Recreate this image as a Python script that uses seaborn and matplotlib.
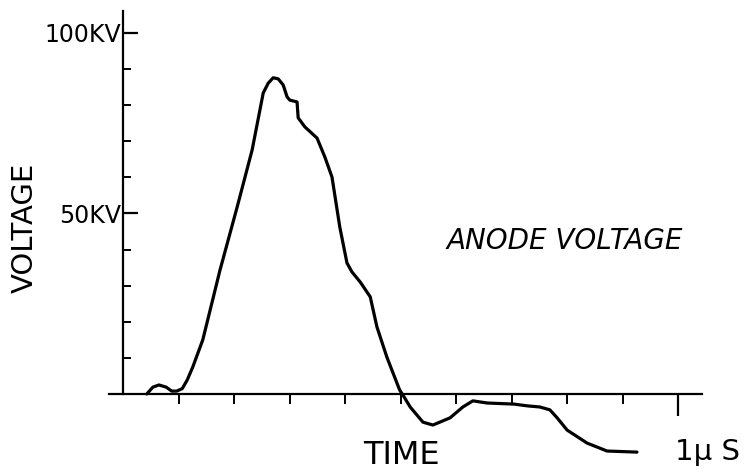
import numpy as np
import pandas as pd
import seaborn as sns
import matplotlib.pyplot as plt
from matplotlib.ticker import FixedLocator

# anode voltage trace (time in microseconds, voltage in kV)
time_us = [0.042, 0.053, 0.064, 0.077, 0.087, 0.096, 0.106, 0.115, 0.125, 0.143,
           0.174, 0.205, 0.232, 0.252, 0.261, 0.270, 0.279, 0.288, 0.295, 0.300,
           0.313, 0.315, 0.327, 0.349, 0.363, 0.376, 0.390, 0.403, 0.412, 0.427,
           0.445, 0.457, 0.475, 0.498, 0.504, 0.517, 0.540, 0.558, 0.589, 0.612,
           0.630, 0.656, 0.704, 0.729, 0.751, 0.769, 0.782, 0.800, 0.836, 0.872,
           0.926]
voltage_kv = [0.0, 1.9, 2.5, 1.9, 0.8, 0.8, 1.5, 3.9, 7.5, 15.0,
              34.3, 51.8, 67.6, 83.4, 86.1, 87.6, 87.3, 85.6, 82.3, 81.4,
              80.9, 76.5, 74.0, 70.9, 65.7, 60.1, 46.3, 36.3, 33.8, 31.0,
              26.9, 18.6, 10.2, 1.1, -0.3, -3.6, -7.8, -8.6, -6.6, -3.6,
              -1.9, -2.5, -2.8, -3.3, -3.6, -4.4, -6.6, -10.0, -13.6, -15.8,
              -16.1]

y_major = [50, 100]
y_major_labels = ["50KV", "100KV"]
y_minor = [10, 20, 30, 40, 60, 70, 80, 90]
x_ticks = [0.1, 0.2, 0.3, 0.4, 0.5, 0.6, 0.7, 0.8, 0.9]
x_end = [1.0]

df = pd.DataFrame({"time": time_us, "voltage": voltage_kv})

sns.set_style("white")
plt.rcParams["font.family"] = ["DejaVu Sans"]
plt.rcParams["text.color"] = "black"

fig = plt.figure(figsize=(7.46, 4.75), dpi=100)
ax = fig.add_axes([0, 0, 1, 1])

sns.lineplot(data=df, x="time", y="voltage", sort=False, color="black",
             linewidth=2.3, ax=ax)
ax.lines[0].set_solid_joinstyle("round")
ax.lines[0].set_solid_capstyle("round")

ax.set_xlim(-0.2227, 1.1226)
ax.set_ylim(-22.44, 109.14)

# hand drawn style axes through the origin
for side in ["top", "right"]:
    ax.spines[side].set_visible(False)
ax.spines["left"].set_position(("data", 0))
ax.spines["bottom"].set_position(("data", 0))
ax.spines["left"].set_bounds(0, 106)
ax.spines["bottom"].set_bounds(-0.026, 1.044)
for side in ["left", "bottom"]:
    ax.spines[side].set_linewidth(1.6)
    ax.spines[side].set_color("black")

ax.yaxis.set_major_locator(FixedLocator(y_major))
ax.set_yticklabels(y_major_labels)
ax.yaxis.set_minor_locator(FixedLocator(y_minor))
ax.tick_params(axis="y", which="both", left=True, colors="black")
ax.tick_params(axis="y", which="major", direction="in", length=11, width=1.6,
               labelsize=17, pad=2)
ax.tick_params(axis="y", which="minor", direction="in", length=6, width=1.4)

ax.xaxis.set_major_locator(FixedLocator(x_ticks))
ax.xaxis.set_minor_locator(FixedLocator(x_end))
ax.set_xticklabels([])
ax.tick_params(axis="x", which="both", bottom=True, colors="black")
ax.tick_params(axis="x", which="major", direction="out", length=7, width=1.4)
ax.tick_params(axis="x", which="minor", direction="out", length=16, width=1.6)

ax.set_xlabel("")
ax.set_ylabel("")

ax.text(-0.178, 46, "VOLTAGE", rotation=90, fontsize=21, ha="center", va="center")
ax.text(0.502, -16.9, "TIME", fontsize=23, ha="center", va="center")
ax.text(1.112, -16.0, "1μ S", fontsize=21, ha="right", va="center")
ax.text(0.796, 42.3, "ANODE VOLTAGE", fontsize=20, style="italic",
        ha="center", va="center")

fig.savefig("out.png", dpi=100, facecolor="white")
